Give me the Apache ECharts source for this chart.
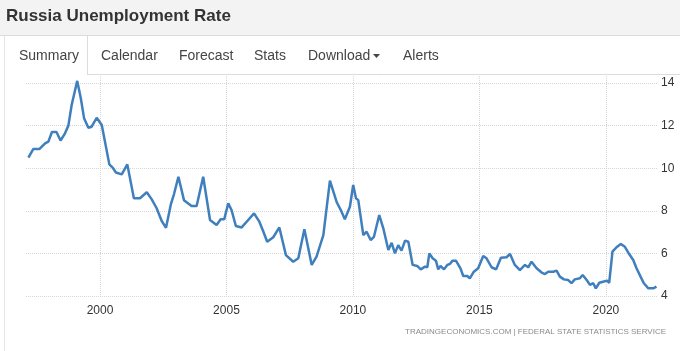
<!DOCTYPE html>
<html>
<head>
<meta charset="utf-8">
<script src="https://cdn.jsdelivr.net/npm/echarts@6/dist/echarts.min.js"></script>
<style>
html, body { margin: 0; padding: 0; background: #fff; }
#main { width: 680px; height: 351px; }
</style>
</head>
<body>
<div id="main"></div>
<script>
// decimal year of each reading
const years = [
  1997.17, 1997.36, 1997.6, 1997.83, 1997.96, 1998.1, 1998.28, 1998.44, 1998.6, 1998.75,
  1998.88, 1999.1, 1999.24, 1999.37, 1999.54, 1999.67, 1999.87, 2000.07, 2000.37, 2000.5,
  2000.63, 2000.86, 2001.08, 2001.34, 2001.58, 2001.85, 2002.04, 2002.24, 2002.44, 2002.61,
  2002.8, 2002.93, 2003.1, 2003.32, 2003.62, 2003.82, 2004.08, 2004.35, 2004.61, 2004.77,
  2004.91, 2005.07, 2005.2, 2005.37, 2005.6, 2005.86, 2006.09, 2006.3, 2006.46, 2006.61,
  2006.85, 2007.09, 2007.35, 2007.64, 2007.84, 2008.08, 2008.37, 2008.56, 2008.83, 2009.09,
  2009.36, 2009.55, 2009.68, 2009.88, 2010.01, 2010.12, 2010.21, 2010.41, 2010.54, 2010.7,
  2010.83, 2011.04, 2011.2, 2011.26, 2011.4, 2011.53, 2011.66, 2011.79, 2011.92, 2012.06,
  2012.19, 2012.36, 2012.54, 2012.68, 2012.85, 2012.94, 2013.02, 2013.15, 2013.28, 2013.37,
  2013.46, 2013.6, 2013.73, 2013.83, 2013.94, 2014.07, 2014.25, 2014.36, 2014.52, 2014.62,
  2014.78, 2014.95, 2015.15, 2015.28, 2015.48, 2015.66, 2015.85, 2016.07, 2016.21, 2016.4,
  2016.6, 2016.8, 2016.93, 2017.06, 2017.26, 2017.46, 2017.59, 2017.72, 2017.92, 2018.05,
  2018.18, 2018.34, 2018.51, 2018.64, 2018.77, 2018.97, 2019.08, 2019.24, 2019.37, 2019.5,
  2019.6, 2019.74, 2019.89, 2020.05, 2020.13, 2020.26, 2020.42, 2020.59, 2020.75, 2020.92,
  2021.08, 2021.21, 2021.37, 2021.5, 2021.68, 2021.87, 2022.0
];
// unemployment rate, percent
const rates = [
  10.5, 10.9, 10.9, 11.17, 11.25, 11.7, 11.7, 11.3, 11.6, 12.0,
  12.97, 14.1, 13.3, 12.35, 11.9, 11.95, 12.37, 12.03, 10.18, 10.03,
  9.8, 9.71, 10.18, 8.59, 8.59, 8.87, 8.55, 8.12, 7.52, 7.2,
  8.3, 8.8, 9.6, 8.5, 8.23, 8.23, 9.6, 7.57, 7.33, 7.6,
  7.6, 8.35, 8.04, 7.29, 7.22, 7.57, 7.88, 7.49, 7.02, 6.55,
  6.76, 7.22, 5.92, 5.61, 5.77, 7.13, 5.46, 5.85, 6.86, 9.42,
  8.4, 7.96, 7.6, 8.19, 9.21, 8.59, 8.5, 6.86, 7.02, 6.63,
  6.78, 7.8, 7.18, 7.18, 6.16, 6.5, 6.0, 6.39, 6.13, 6.6,
  6.55, 5.46, 5.41, 5.25, 5.38, 5.35, 6.0, 5.77, 5.66, 5.25,
  5.41, 5.25, 5.46, 5.5, 5.66, 5.66, 5.3, 4.94, 4.94, 4.83,
  5.14, 5.3, 5.88, 5.77, 5.35, 5.25, 5.8, 5.82, 5.97, 5.46,
  5.22, 5.46, 5.35, 5.61, 5.3, 5.1, 5.03, 5.14, 5.14, 5.19,
  4.91, 4.78, 4.75, 4.6, 4.78, 4.83, 4.99, 4.75, 4.52, 4.6,
  4.36, 4.62, 4.67, 4.72, 4.62, 6.08, 6.29, 6.44, 6.31, 5.97,
  5.69, 5.3, 4.91, 4.6, 4.36, 4.36, 4.44
];
const yearTicks = [2000, 2005, 2010, 2015, 2020];
const rateTicks = [4, 6, 8, 10, 12, 14];
const tabs = ['Summary', 'Calendar', 'Forecast', 'Stats', 'Download', 'Alerts'];

const tabLeft = [19, 101, 179, 254, 308, 403];
const font = 'Liberation Sans, Arial, sans-serif';
const gridLine = { show: true, lineStyle: { color: '#d6d6d6', type: 'dotted', width: 1 } };

const graphics = [
  { type: 'rect', shape: { x: 0, y: 0, width: 680, height: 35 }, style: { fill: '#f3f3f3' }, silent: true },
  { type: 'line', shape: { x1: 0, y1: 35.5, x2: 680, y2: 35.5 }, style: { stroke: '#dcdcdc', lineWidth: 1 } },
  { type: 'line', shape: { x1: 87.5, y1: 36, x2: 87.5, y2: 75 }, style: { stroke: '#dcdcdc', lineWidth: 1 } },
  { type: 'line', shape: { x1: 87, y1: 74.5, x2: 680, y2: 74.5 }, style: { stroke: '#dcdcdc', lineWidth: 1 } },
  { type: 'line', shape: { x1: 4.5, y1: 36, x2: 4.5, y2: 351 }, style: { stroke: '#e4e4e4', lineWidth: 1 } },
  {
    type: 'text', left: 6, top: 8,
    style: { text: 'Russia Unemployment Rate', font: 'bold 17px ' + font, fill: '#333' }
  },
  {
    type: 'polygon', shape: { points: [[373, 54], [380, 54], [376.5, 58]] }, style: { fill: '#444' }
  },
  {
    type: 'text', right: 14, top: 328,
    style: { text: 'TRADINGECONOMICS.COM | FEDERAL STATE STATISTICS SERVICE', font: '8px ' + font, fill: '#8a8a8a' }
  }
];
tabs.forEach(function (t, i) {
  graphics.push({
    type: 'text', left: tabLeft[i], top: 49,
    style: { text: t, font: '14px ' + font, fill: '#444' }
  });
});

const chart = echarts.init(document.getElementById('main'));
chart.setOption({
  animation: false,
  grid: { left: 26, right: 23, top: 76, bottom: 55 },
  xAxis: {
    type: 'value',
    min: 1997.075,
    max: 2022.02,
    axisLine: { show: false },
    axisTick: { show: false, customValues: yearTicks },
    axisLabel: {
      customValues: yearTicks, color: '#333', fontSize: 12, fontFamily: font, margin: 9,
      formatter: function (v) { return String(v); }
    },
    splitLine: gridLine
  },
  yAxis: {
    type: 'value',
    position: 'right',
    min: 4,
    max: 14.33,
    axisLine: { show: false },
    axisTick: { show: false, customValues: rateTicks },
    axisLabel: { customValues: rateTicks, color: '#333', fontSize: 12, fontFamily: font, margin: 4 },
    splitLine: gridLine
  },
  graphic: graphics,
  series: [{
    type: 'line',
    data: years.map(function (y, i) { return [y, rates[i]]; }),
    showSymbol: false,
    lineStyle: { color: '#3f7fbd', width: 2.5 },
    z: 5
  }]
});
</script>
</body>
</html>
